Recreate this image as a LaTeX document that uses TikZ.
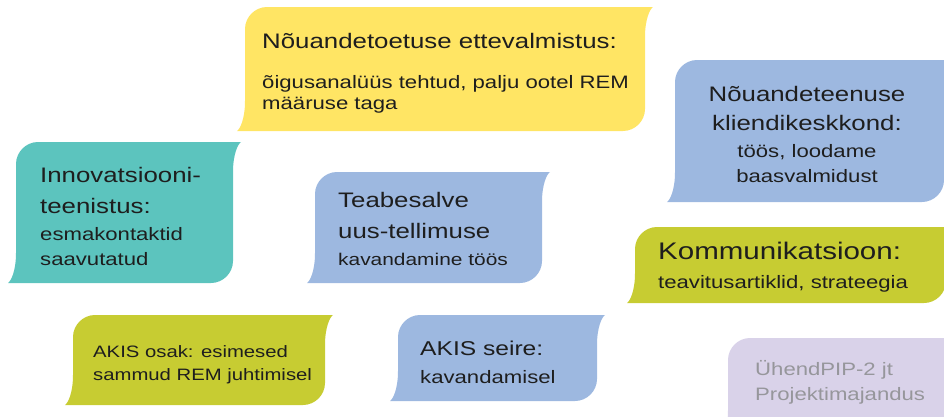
\documentclass[tikz,border=0pt]{standalone}
\usepackage{fontspec}
\setmainfont{Liberation Sans}[FakeStretch=1.23]

\definecolor{kollane}{RGB}{255,229,100}
\definecolor{sinine}{RGB}{157,184,224}
\definecolor{turkiis}{RGB}{92,196,190}
\definecolor{oliiv}{RGB}{199,204,50}
\definecolor{lilla}{RGB}{217,210,233}
\definecolor{tekst}{RGB}{30,30,30}
\definecolor{hall}{RGB}{150,150,155}

% bubble: colour, left tip x, top y, right tip x, bottom y
\newcommand{\bubble}[5]{%
  \fill[#1] (#2,#5) -- ({#4-30},#5)
    .. controls ({#4-18},#5) and ({#4-8},{#5-10}) .. ({#4-8},{#5-22})
    -- ({#4-8},{#3+30})
    .. controls ({#4-8},{#3+12}) and ({#4-3},{#3+2}) .. (#4,#3)
    -- ({#2+30},#3)
    .. controls ({#2+18},#3) and ({#2+8},{#3+10}) .. ({#2+8},{#3+22})
    -- ({#2+8},{#5-30})
    .. controls ({#2+8},{#5-12}) and ({#2+3},{#5-2}) .. (#2,#5) -- cycle;}

\begin{document}
\begin{tikzpicture}[x=1pt,y=-1pt,
  pealkiri/.style={font=\fontsize{21}{25}\selectfont, text=tekst, inner sep=0pt, anchor=base west},
  sisu/.style={font=\fontsize{18}{22}\selectfont, text=tekst, inner sep=0pt, anchor=base west}]
\useasboundingbox (0,0) rectangle (944,416);
\clip (0,0) rectangle (944,416);

\bubble{kollane}{237}{7}{653}{131}
\bubble{sinine}{667}{60}{952}{202}
\bubble{turkiis}{8}{142}{241}{283}
\bubble{sinine}{307}{172}{550}{283}
\bubble{oliiv}{627}{227}{954}{303}
\bubble{oliiv}{65}{315}{333}{405}
\bubble{sinine}{390}{315}{605}{401}
\bubble{lilla}{720}{338}{980}{440}

% yellow
\node[pealkiri] (ettev1) at (262,48) {Nõuandetoetuse ettevalmistus:};
\node[sisu] (ettev2) at (262,88) {õigusanalüüs tehtud, palju ootel REM};
\node[sisu] (ettev3) at (262,109) {määruse taga};

% top right
\node[pealkiri, anchor=base] (klient1) at (807,101) {Nõuandeteenuse};
\node[pealkiri, anchor=base] (klient2) at (807,130) {kliendikeskkond:};
\node[sisu, anchor=base] (klient3) at (807,157) {töös, loodame};
\node[sisu, anchor=base] (klient4) at (807,182) {baasvalmidust};

% teal
\node[pealkiri] (innov1) at (40,182) {Innovatsiooni-};
\node[pealkiri] (innov2) at (40,213) {teenistus:};
\node[sisu] (innov3) at (40,240) {esmakontaktid};
\node[sisu] (innov4) at (40,265) {saavutatud};

% middle
\node[pealkiri] (teabe1) at (338,207) {Teabesalve};
\node[pealkiri] (teabe2) at (338,238) {uus-tellimuse};
\node[sisu, font=\fontsize{17}{21}\selectfont] (teabe3) at (338,265) {kavandamine töös};

% communication
\node[pealkiri, font=\fontsize{24}{28}\selectfont] (kommu1) at (658,259) {Kommunikatsioon:};
\node[sisu] (kommu2) at (658,288) {teavitusartiklid, strateegia};

% bottom row
\node[sisu, font=\fontsize{16.5}{20}\selectfont] (osak1) at (93,357) {AKIS osak: esimesed};
\node[sisu, font=\fontsize{16.5}{20}\selectfont] (osak2) at (93,380) {sammud REM juhtimisel};

\node[pealkiri, font=\fontsize{20}{24}\selectfont] (seire1) at (420,355) {AKIS seire:};
\node[sisu] (seire2) at (420,383) {kavandamisel};

\node[sisu, text=hall] (pip1) at (755,375) {ÜhendPIP-2 jt};
\node[sisu, text=hall] (pip2) at (755,400) {Projektimajandus};
\end{tikzpicture}
\end{document}
